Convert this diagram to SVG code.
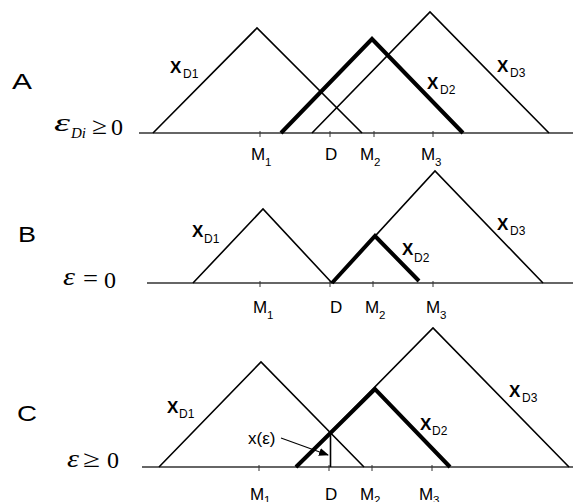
<svg xmlns="http://www.w3.org/2000/svg" width="573" height="502" viewBox="0 0 573 502">
<style>
.axis{stroke:#333;stroke-width:1.3;fill:none}
.tick{stroke:#333;stroke-width:1}
.thin{stroke:#000;stroke-width:1.6;fill:none;stroke-linejoin:miter}
.thick{stroke:#000;stroke-width:4;fill:none;stroke-linejoin:miter}
.lab{font-family:"Liberation Sans",Arial,sans-serif;font-size:17px;fill:#000}
.sub{font-family:"Liberation Sans",Arial,sans-serif;font-size:11.5px;fill:#000}
.xl{font-family:"Liberation Sans",Arial,sans-serif;font-size:17px;font-weight:bold;fill:#000}
.xs{font-family:"Liberation Sans",Arial,sans-serif;font-size:12px;fill:#000}
.pan{font-family:"Liberation Sans",Arial,sans-serif;font-size:22px;fill:#000}
.eps{font-family:"Liberation Serif","Times New Roman",serif;font-style:italic;font-size:26px;fill:#000}
.epsub{font-family:"Liberation Serif","Times New Roman",serif;font-style:italic;font-size:15px;fill:#000}
.math{font-family:"Liberation Serif","Times New Roman",serif;font-size:24px;fill:#000}
</style>
<defs>
<marker id="ah" markerWidth="10" markerHeight="8" refX="9" refY="4" orient="auto" markerUnits="userSpaceOnUse">
<path d="M0,0 L10,4 L0,8 Z" fill="#000"/>
</marker>
</defs>

<g id="panelA">
<text class="pan" x="12" y="89" textLength="20" lengthAdjust="spacingAndGlyphs">A</text>
<text class="eps" x="54" y="131" textLength="16" lengthAdjust="spacingAndGlyphs">ε</text>
<text class="epsub" x="71" y="138">Di</text>
<text class="math" x="92" y="134" textLength="15" lengthAdjust="spacingAndGlyphs">≥</text>
<text class="math" x="111" y="135">0</text>
<line class="axis" x1="139" y1="133" x2="573" y2="133"/>
<g class="tick"><line x1="260" y1="131" x2="260" y2="137"/><line x1="330" y1="131" x2="330" y2="137"/><line x1="374" y1="131" x2="374" y2="137"/><line x1="433" y1="131" x2="433" y2="137"/></g>
<text class="lab" x="251" y="160">M</text><text class="sub" x="265" y="166">1</text>
<text class="lab" x="325" y="160">D</text>
<text class="lab" x="360" y="160">M</text><text class="sub" x="374" y="166">2</text>
<text class="lab" x="421" y="160">M</text><text class="sub" x="435" y="166">3</text>
<g id="A-xD1"><polyline class="thin" points="153,133 257,28 362,133"/><text class="xl" x="170" y="73">X</text><text class="xs" x="183" y="78">D1</text></g>
<g id="A-xD3"><polyline class="thin" points="312,133 430,12 549,133"/><text class="xl" x="497" y="72">X</text><text class="xs" x="510" y="77">D3</text></g>
<g id="A-xD2"><polyline class="thick" points="281,133 372,39 463,133"/><text class="xl" x="427" y="89">X</text><text class="xs" x="440" y="94">D2</text></g>
</g>

<g id="panelB">
<text class="pan" x="18" y="242" textLength="18" lengthAdjust="spacingAndGlyphs">B</text>
<text class="eps" x="63" y="285" textLength="12" lengthAdjust="spacingAndGlyphs">ε</text>
<text class="math" x="83" y="286" textLength="15" lengthAdjust="spacingAndGlyphs">=</text>
<text class="math" x="104" y="288">0</text>
<line class="axis" x1="147" y1="283" x2="573" y2="283"/>
<g class="tick"><line x1="260" y1="281" x2="260" y2="287"/><line x1="330" y1="281" x2="330" y2="287"/><line x1="373" y1="281" x2="373" y2="287"/><line x1="433" y1="281" x2="433" y2="287"/></g>
<text class="lab" x="253" y="313">M</text><text class="sub" x="267" y="319">1</text>
<text class="lab" x="330" y="313">D</text>
<text class="lab" x="365" y="313">M</text><text class="sub" x="379" y="319">2</text>
<text class="lab" x="426" y="313">M</text><text class="sub" x="440" y="319">3</text>
<g id="B-xD1"><polyline class="thin" points="193,283 263,209 332,283"/><text class="xl" x="192" y="237">X</text><text class="xs" x="204" y="243">D1</text></g>
<g id="B-xD3"><polyline class="thin" points="332,283 435,171 543,283"/><text class="xl" x="497" y="230">X</text><text class="xs" x="510" y="235">D3</text></g>
<g id="B-xD2"><polyline class="thick" points="332,283 375,236 419,281"/><text class="xl" x="402" y="255">X</text><text class="xs" x="414" y="262">D2</text></g>
</g>

<g id="panelC">
<text class="pan" x="17" y="421" textLength="20" lengthAdjust="spacingAndGlyphs">C</text>
<text class="eps" x="67" y="467" textLength="12" lengthAdjust="spacingAndGlyphs">ε</text>
<text class="math" x="83" y="467" textLength="17" lengthAdjust="spacingAndGlyphs">≥</text>
<text class="math" x="107" y="468">0</text>
<line class="axis" x1="142" y1="467" x2="573" y2="467"/>
<g class="tick"><line x1="259" y1="465" x2="259" y2="471"/><line x1="329" y1="465" x2="329" y2="471"/><line x1="372" y1="465" x2="372" y2="471"/><line x1="432" y1="465" x2="432" y2="471"/></g>
<text class="lab" x="250" y="500">M</text><text class="sub" x="264" y="504">1</text>
<text class="lab" x="325" y="500">D</text>
<text class="lab" x="360" y="500">M</text><text class="sub" x="374" y="504">2</text>
<text class="lab" x="419" y="500">M</text><text class="sub" x="433" y="504">3</text>
<g id="C-xD1"><polyline class="thin" points="159,467 261,362 364,467"/><text class="xl" x="167" y="413">X</text><text class="xs" x="179" y="418">D1</text></g>
<g id="C-xD3"><polyline class="thin" points="296,467 433,328 569,467"/><text class="xl" x="509" y="397">X</text><text class="xs" x="522" y="402">D3</text></g>
<g id="C-xD2"><polyline class="thick" points="296,467 375,389 450,467"/><text class="xl" x="420" y="430">X</text><text class="xs" x="432" y="435">D2</text></g>
<g id="C-xeps">
<line class="thin" x1="330.5" y1="432" x2="330.5" y2="467" stroke-width="1.5"/>
<text class="lab" x="248" y="444" font-size="15">x(ε)</text>
</g>
</g>

<g id="connectors">
<line x1="281" y1="438" x2="328" y2="455" stroke="#000" stroke-width="1.1" marker-end="url(#ah)"/>
</g>
</svg>
